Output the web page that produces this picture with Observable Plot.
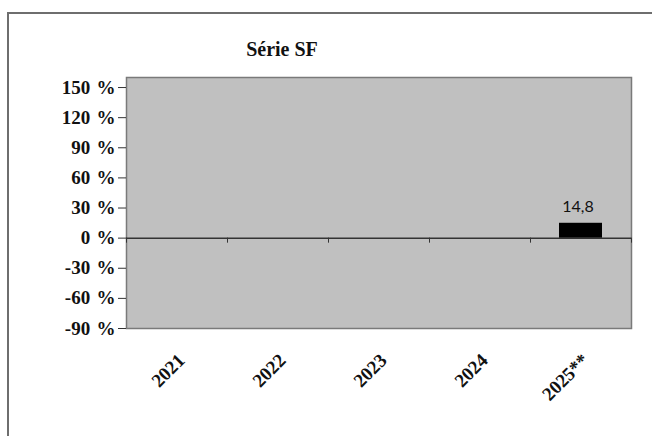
<!DOCTYPE html>
<html><head><meta charset="utf-8">
<script src="https://cdn.jsdelivr.net/npm/d3@7"></script>
<script src="https://cdn.jsdelivr.net/npm/@observablehq/plot@0.6"></script>
<style>
body{margin:0;background:#fff;}
#wrap{position:relative;width:652px;height:436px;overflow:hidden;background:#fff;}
#border{position:absolute;left:7px;top:12px;width:700px;height:500px;border:2px solid #6e6e6e;box-sizing:border-box;}
#title{position:absolute;left:182px;width:200px;top:38px;text-align:center;font:bold 20px "Liberation Serif","DejaVu Serif",serif;color:#111;}
#chart{position:absolute;left:0;top:70px;}
</style></head>
<body><div id="wrap"><div id="border"></div><div id="title">Série SF</div><div id="chart"></div></div>
<script>
const categories = ["2021","2022","2023","2024","2025**"];
const values = [null, null, null, null, 14.8];
const yTicks = [-90, -60, -30, 0, 30, 60, 90, 120, 150];
const yDomain = [-90, 160];

const data = categories.map((c, i) => ({cat: c, v: values[i]}));
const bars = data.filter(d => d.v != null);
const fmt = v => String(v).replace(".", ",");

const serif = '"Liberation Serif","DejaVu Serif",serif';
const chart = Plot.plot({
  width: 652,
  height: 366,
  marginLeft: 126,
  marginRight: 21,
  marginTop: 7,
  marginBottom: 108,
  x: {domain: categories, padding: 0, axis: null},
  y: {domain: yDomain, axis: null},
  style: {background: "transparent", overflow: "visible"},
  marks: [
    Plot.frame({fill: "#c0c0c0", stroke: "#7a7a7a", strokeWidth: 1.5}),
    Plot.axisY({ticks: yTicks, tickSize: 8, tickPadding: 3, tickFormat: d => d + " \u200A%", label: null,
      fontSize: 19, fontWeight: "bold", fontFamily: serif, fill: "#111", stroke: "#333"}),
    Plot.ruleY([0], {stroke: "#333", strokeWidth: 1.5}),
    Plot.ruleX(categories, {x: d => d, y1: 0, y2: -5, dx: -50.5, stroke: "#333"}),
    Plot.ruleX([categories[categories.length - 1]], {x: d => d, y1: 0, y2: -5, dx: 50.5, stroke: "#333"}),
    Plot.barY(bars, {x: "cat", y: "v", fill: "#000", insetLeft: 29, insetRight: 29}),
    Plot.text(bars, {x: "cat", y: "v", text: d => fmt(d.v), lineAnchor: "bottom", dy: -11, dx: -3,
      fontSize: 16, fontFamily: "Lato, 'Open Sans', sans-serif", fill: "#111"}),
    Plot.text(categories, {x: d => d, frameAnchor: "bottom", rotate: -45, textAnchor: "end",
      dx: 9, dy: 33, fontSize: 19, fontWeight: "bold", fontFamily: serif, fill: "#111"})
  ]
});
document.getElementById("chart").appendChild(chart);
</script></body></html>
